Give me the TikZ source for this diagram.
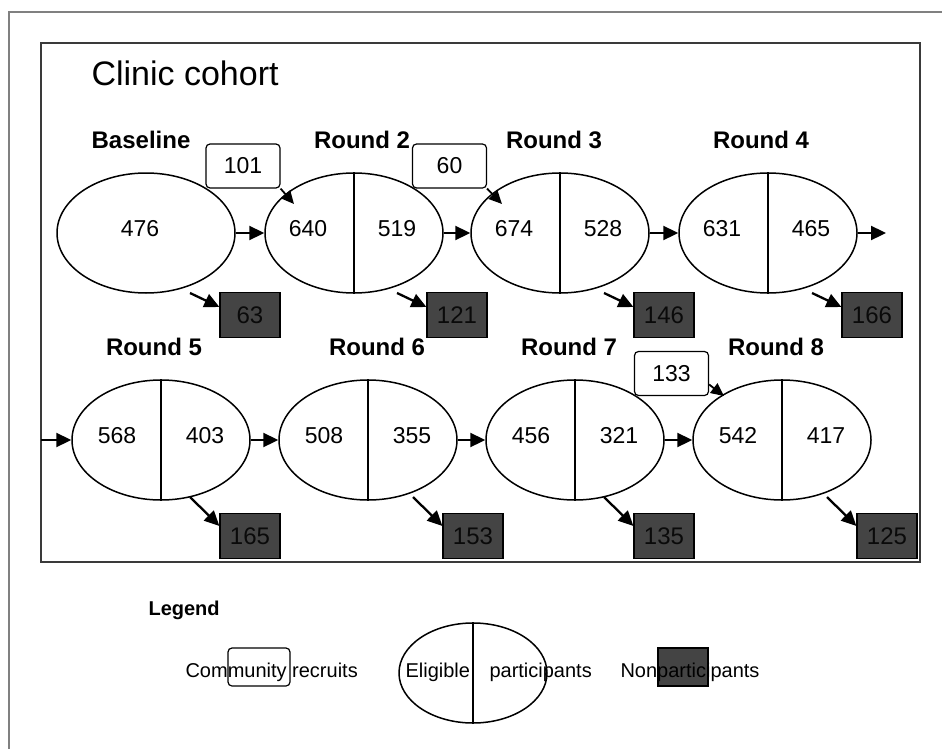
\documentclass[tikz,border=0pt]{standalone}
\usepackage{fontspec}
\setmainfont{Liberation Sans}
\usetikzlibrary{shapes.geometric,arrows.meta}
\definecolor{outer}{HTML}{808080}
\definecolor{inner}{HTML}{3A3A3A}
\definecolor{dark}{HTML}{444444}
\definecolor{ink}{HTML}{0A0A0A}
\tikzset{
  wave/.style={ellipse, draw, line width=1.5pt, minimum width=178pt, minimum height=120pt, inner sep=0pt},
  split/.style={draw, line width=1.5pt},
  newbox/.style={draw, fill=white, rounded corners=4pt, line width=1.2pt, minimum width=74pt, minimum height=44pt, font=\fontsize{23}{27}\selectfont},
  lost/.style={draw, fill=dark, line width=1.2pt, minimum width=60pt, minimum height=45pt, text=ink, font=\fontsize{24}{28}\selectfont},
  flow/.style={-{Triangle[length=15pt,width=14pt]}, line width=2.3pt},
  feed/.style={-{Triangle[length=13pt,width=12pt]}, line width=1.8pt},
  num/.style={anchor=base, font=\fontsize{23}{27}\selectfont},
  rnd/.style={anchor=base, font=\bfseries\fontsize{24}{28}\selectfont},
  leg/.style={anchor=base west, font=\fontsize{20}{24}\selectfont},
}
\begin{document}
\begin{tikzpicture}[x=1pt,y=-1pt]
  \useasboundingbox (0,0) rectangle (942,749);
  \draw[outer, line width=2.5pt] (9,749) -- (9,12) -- (942,12);
  \draw[inner, line width=2pt] (41,43) rectangle (920,562);
  \node[anchor=base west, font=\fontsize{34}{40}\selectfont] (title) at (88,86) {Clinic cohort};
  % first row
  \node[wave] (e1) at (146,233) {};
  \node[num] (n1) at (140,236) {476};
  \node[rnd] (r1) at (141,148) {Baseline};
  \foreach \k/\x/\lx/\a/\b in {2/354/362/640/519, 3/560/554/674/528, 4/768/761/631/465} {
    \node[wave] (e\k) at (\x,233) {};
    \draw[split] (e\k.north) -- (e\k.south);
    \node[num] (a\k) at (\x-46,236) {\a};
    \node[num] (b\k) at (\x+43,236) {\b};
    \node[rnd] (r\k) at (\lx,148) {Round \k};
  }
  % second row
  \foreach \k/\x/\lx/\a/\b in {5/161/154/568/403, 6/368/377/508/355, 7/575/569/456/321, 8/782/776/542/417} {
    \node[wave] (e\k) at (\x,440) {};
    \draw[split] (e\k.north) -- (e\k.south);
    \node[num] (a\k) at (\x-44,443) {\a};
    \node[num] (b\k) at (\x+44,443) {\b};
    \node[rnd] (r\k) at (\lx,355) {Round \k};
  }
  \foreach \i/\j in {1/2, 2/3, 3/4, 5/6, 6/7, 7/8}
    \draw[flow] (e\i.east) -- (e\j.west);
  \coordinate (out4) at (886,233);
  \coordinate (in5) at (41,440);
  \draw[flow] (e4.east) -- (out4);
  \draw[flow] (in5) -- (e5.west);
  % nonparticipants
  \foreach \k/\x/\v in {1/250/63, 2/457/121, 3/664/146, 4/872/166} {
    \node[lost] (d\k) at (\x,315) {\v};
    \coordinate (s\k) at (\x-60,293);
    \draw[flow] (s\k) -- ([yshift=8pt]d\k.west);
  }
  \foreach \k/\x/\v in {5/250/165, 6/473/153, 7/664/135, 8/887/125} {
    \node[lost] (d\k) at (\x,536) {\v};
    \coordinate (s\k) at (\x-60,497);
    \draw[flow] (s\k) -- ([yshift=10pt]d\k.west);
  }
  % community recruits
  \node[newbox] (c2) at (243,166) {101};
  \node[newbox] (c3) at (449.5,166) {60};
  \node[newbox] (c8) at (671.5,373.5) {133};
  \coordinate (t2) at (294,204);
  \coordinate (t3) at (502,204);
  \coordinate (t8) at (724,396);
  \draw[feed] (c2.south east) -- (t2);
  \draw[feed] (c3.south east) -- (t3);
  \draw[feed] ([yshift=-11pt]c8.east) -- (t8);
  % legend
  \node[anchor=base west, font=\bfseries\fontsize{20}{24}\selectfont] (legend) at (145,615) {Legend};
  \node[draw, rounded corners=4pt, line width=1.2pt, minimum width=62pt, minimum height=38pt] (kc) at (259,667) {};
  \node[leg] (kct) at (182,677) {Community recruits};
  \node[wave, minimum width=148pt, minimum height=100pt] (ke) at (473,673) {};
  \draw[split] (ke.north) -- (ke.south);
  \node[leg] (kel) at (402,677) {Eligible};
  \node[leg] (kep) at (486,677) {participants};
  \node[lost, minimum width=50pt, minimum height=38pt] (kd) at (683,667) {};
  \node[leg] (kdt) at (617,677) {Nonparticipants};
\end{tikzpicture}
\end{document}
